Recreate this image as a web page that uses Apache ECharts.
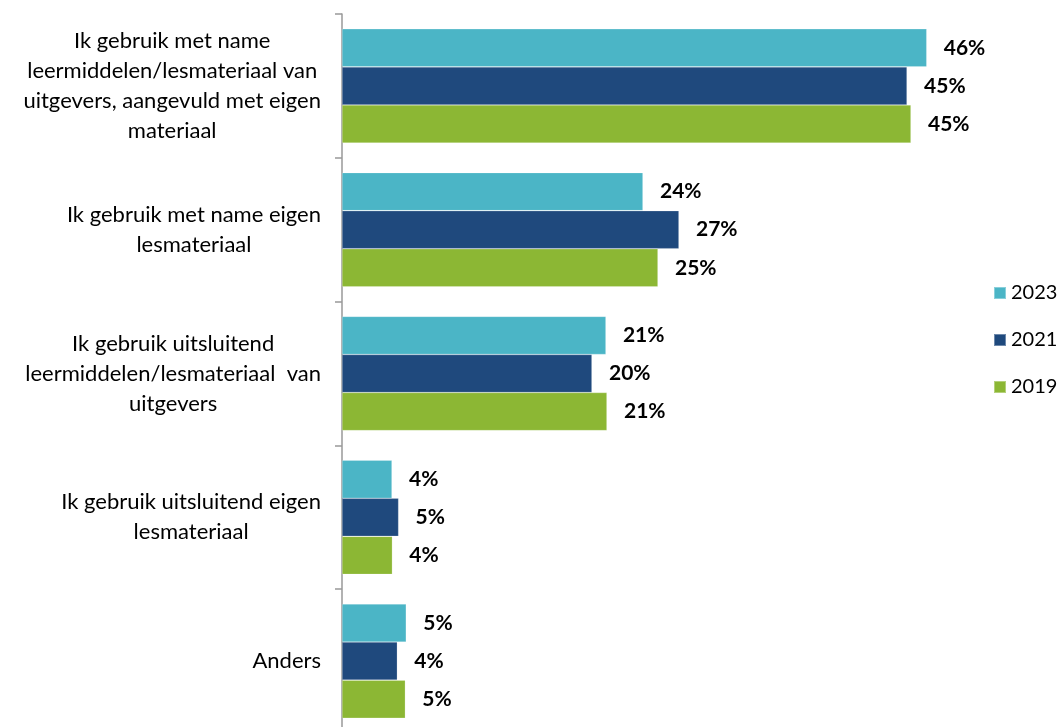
<!DOCTYPE html>
<html>
<head>
<meta charset="utf-8">
<title>Lesmateriaal</title>
<script src="https://cdn.jsdelivr.net/npm/echarts@6/dist/echarts.min.js"></script>
<style>
  html, body { margin: 0; padding: 0; background: #fff; }
  #chart { width: 1061px; height: 727px; }
</style>
</head>
<body>
<div id="chart"></div>
<script>
// categories, top to bottom
const categories = [
  'Ik gebruik met name\nleermiddelen/lesmateriaal van\nuitgevers, aangevuld met eigen\nmateriaal',
  'Ik gebruik met name eigen\nlesmateriaal',
  'Ik gebruik uitsluitend\nleermiddelen/lesmateriaal  van\nuitgevers',
  'Ik gebruik uitsluitend eigen\nlesmateriaal',
  'Anders'
]
const seriesNames = ['2023', '2021', '2019']

// bar lengths (%)
const values2023 = [45.97, 23.66, 20.75, 3.93, 5.05]
const values2021 = [44.42, 26.49, 19.65, 4.45, 4.35]
const values2019 = [44.73, 24.84, 20.83, 3.96, 4.98]

// printed labels (%)
const labels2023 = [46, 24, 21, 4, 5]
const labels2021 = [45, 27, 20, 5, 4]
const labels2019 = [45, 25, 21, 4, 5]

const colors = ['#4BB5C6', '#1F497D', '#8CB734']
const font = 'Lato, "Open Sans", sans-serif'

const chart = echarts.init(document.getElementById('chart'))

const makeSeries = (name, values, labels, color) => ({
  name: name,
  type: 'bar',
  data: values,
  barGap: '0%',
  barCategoryGap: '20.6%',
  itemStyle: { color: color, borderColor: 'rgba(255,255,255,0.35)', borderWidth: 0.6 },
  label: {
    show: true,
    position: 'right',
    distance: 17,
    fontFamily: font,
    fontSize: 21,
    fontWeight: 'bold',
    color: '#000',
    formatter: (p) => labels[p.dataIndex] + '%'
  }
})

const option = {
  animation: false,
  backgroundColor: '#fff',
  textStyle: { fontFamily: font },
  legend: {
    orient: 'vertical',
    left: 993,
    top: 283,
    padding: 0,
    itemWidth: 12,
    itemHeight: 12,
    itemGap: 27,
    icon: 'rect',
    textStyle: { fontFamily: font, fontSize: 20, color: '#000' },
    data: seriesNames
  },
  grid: {
    left: 342,
    top: 14,
    width: 636,
    height: 719,
    containLabel: false,
    outerBoundsMode: 'none'
  },
  xAxis: {
    type: 'value',
    min: 0,
    max: 50,
    show: false
  },
  yAxis: {
    type: 'category',
    inverse: true,
    data: categories,
    axisLine: { show: true, lineStyle: { color: '#999', width: 1.5 } },
    axisTick: { show: true, length: 7, lineStyle: { color: '#999', width: 1.5 } },
    axisLabel: {
      margin: 21,
      align: 'right',
      formatter: (v) => v.split('\n').map((s) => '{c|' + s + '}').join('\n'),
      rich: {
        c: {
          align: 'center',
          fontFamily: font,
          fontSize: 22,
          lineHeight: 30,
          color: '#000'
        }
      }
    }
  },
  series: [
    makeSeries(seriesNames[0], values2023, labels2023, colors[0]),
    makeSeries(seriesNames[1], values2021, labels2021, colors[1]),
    makeSeries(seriesNames[2], values2019, labels2019, colors[2])
  ]
}

chart.setOption(option)
</script>
</body>
</html>
